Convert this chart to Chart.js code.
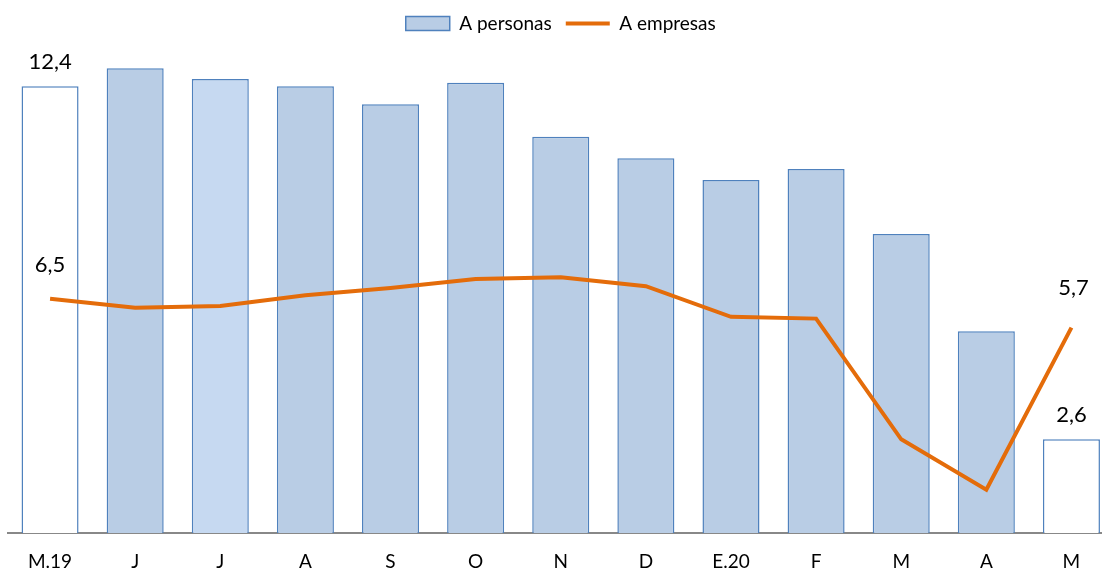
<!DOCTYPE html>
<html>
<head>
<meta charset="utf-8">
<script src="https://cdn.jsdelivr.net/npm/chart.js@4"></script>
<style>
    html, body { margin: 0; padding: 0; background: #fff; overflow: hidden; }
    #wrap { position: relative; width: 1114px; height: 575px; }
</style>
</head>
<body>
<div id="wrap"><canvas id="chart"></canvas></div>
<script>
// Categories (months, May 2019 - May 2020)
const labels = ['M.19', 'J', 'J', 'A', 'S', 'O', 'N', 'D', 'E.20', 'F', 'M', 'A', 'M'];
// Loans to households
const personas = [12.4, 12.9, 12.6, 12.4, 11.9, 12.5, 11.0, 10.4, 9.8, 10.1, 8.3, 5.6, 2.6];
// Loans to companies
const empresas = [6.5, 6.25, 6.3, 6.6, 6.8, 7.05, 7.1, 6.85, 6.0, 5.95, 2.6, 1.2, 5.7];

const blue = '#b9cde5';
const blueLight = '#c6d9f1';
const blueBorder = '#4f81bd';
const orange = '#e46c0a';
const font = 'Lato, "Open Sans", sans-serif';

function barColor(ctx) {
    const i = ctx.dataIndex;
    if (i === 0 || i === labels.length - 1) return '#ffffff';
    if (i === 2) return blueLight;
    return blue;
}

// value labels on the first and last points of each series
const endLabels = {
    id: 'endLabels',
    afterDatasetsDraw(chart) {
        const ctx = chart.ctx;
        const fmt = v => v.toFixed(1).replace('.', ',');
        ctx.save();
        ctx.font = '22px ' + font;
        ctx.fillStyle = '#000';
        ctx.textAlign = 'center';
        ctx.textBaseline = 'middle';
        const last = labels.length - 1;
        const bars = chart.getDatasetMeta(0).data;
        [0, last].forEach(i => {
            ctx.fillText(fmt(personas[i]), bars[i].x, bars[i].y - 24);
        });
        const pts = chart.getDatasetMeta(1).data;
        ctx.fillText(fmt(empresas[0]), pts[0].x, pts[0].y - 34);
        ctx.fillText(fmt(empresas[last]), pts[last].x + 2, pts[last].y - 40);
        ctx.restore();
    }
};

new Chart(document.getElementById('chart'), {
    data: {
        labels: labels,
        datasets: [
            {
                type: 'bar',
                label: 'A personas',
                data: personas,
                backgroundColor: barColor,
                borderColor: blueBorder,
                borderWidth: 1.5,
                categoryPercentage: 1,
                barPercentage: 0.67,
                order: 2
            },
            {
                type: 'line',
                label: 'A empresas',
                data: empresas,
                borderColor: orange,
                backgroundColor: orange,
                borderWidth: 4,
                pointRadius: 0,
                tension: 0,
                order: 1
            }
        ]
    },
    options: {
        responsive: true,
        maintainAspectRatio: false,
        animation: false,
        layout: { padding: { left: 7.5, right: 0, top: 0, bottom: 0 } },
        plugins: {
            tooltip: { enabled: false },
            legend: {
                position: 'top',
                labels: {
                    usePointStyle: true,
                    pointStyleWidth: 44,
                    boxHeight: 14,
                    padding: 14,
                    color: '#000',
                    font: { family: font, size: 19 },
                    generateLabels: () => [
                        { text: 'A personas', pointStyle: 'rect', fillStyle: blue, strokeStyle: blueBorder, lineWidth: 1.5, datasetIndex: 0 },
                        { text: 'A empresas', pointStyle: 'line', fillStyle: orange, strokeStyle: orange, lineWidth: 4, datasetIndex: 1 }
                    ]
                }
            }
        },
        scales: {
            x: {
                grid: { display: false, drawTicks: false },
                border: { display: true, color: '#888', width: 2 },
                ticks: { color: '#000', font: { family: font, size: 19 }, padding: 17, maxRotation: 0, autoSkip: false },
                afterFit: s => { s.height = 42; }
            },
            y: {
                display: false,
                min: 0,
                max: 13.6
            }
        }
    },
    plugins: [endLabels]
});
</script>
</body>
</html>
